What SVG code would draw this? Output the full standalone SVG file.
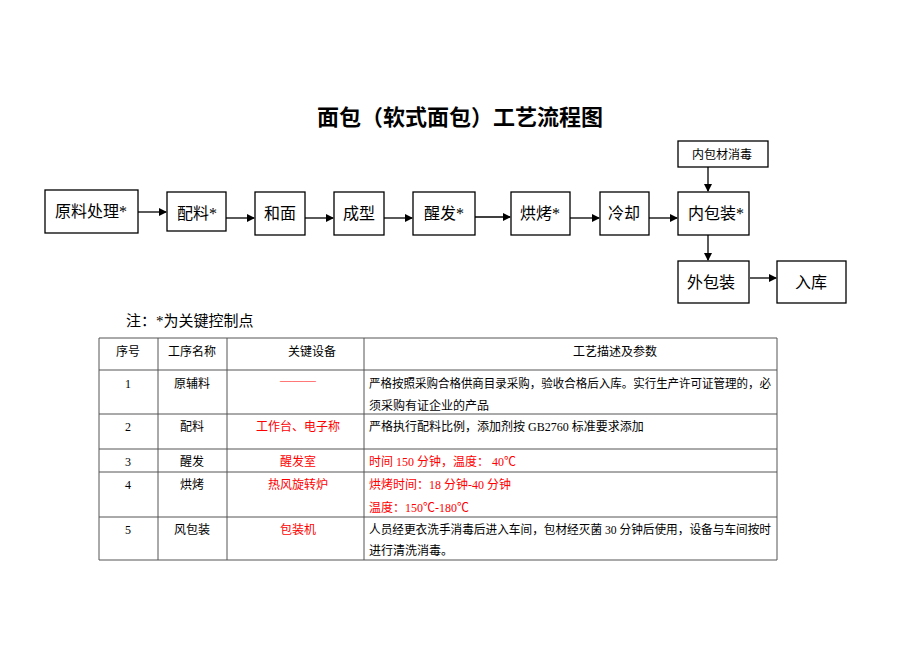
<svg xmlns="http://www.w3.org/2000/svg" width="920" height="651" viewBox="0 0 920 651">
<style>
text{font-family:"Liberation Serif","Noto Sans CJK SC",serif;fill:#000}
.b{fill:#fff;stroke:#000;stroke-width:1.3}
.n{font-size:16px;text-anchor:middle}
.t{font-size:12px}
.c{text-anchor:middle}
.r{fill:#f00}
.g line{stroke:#555;stroke-width:1}
.e line{stroke:#000;stroke-width:1.3}
</style>
<defs><marker id="a" markerWidth="8" markerHeight="8" refX="7" refY="4" orient="auto" markerUnits="userSpaceOnUse"><path d="M0,0L8,4L0,8z" fill="#000"/></marker></defs>
<rect width="920" height="651" fill="#fff"/>
<text x="460" y="125" font-size="22" font-weight="bold" text-anchor="middle">面包（软式面包）工艺流程图</text>
<g id="n1"><rect class="b" x="45" y="190" width="93" height="43"/><text class="n" x="91" y="217">原料处理*</text></g>
<g id="n2"><rect class="b" x="167" y="192" width="59" height="39"/><text class="n" x="197" y="219">配料*</text></g>
<g id="n3"><rect class="b" x="255" y="192" width="50" height="43"/><text class="n" x="280" y="219">和面</text></g>
<g id="n4"><rect class="b" x="334" y="192" width="50" height="43"/><text class="n" x="359" y="219">成型</text></g>
<g id="n5"><rect class="b" x="413" y="192" width="62" height="43"/><text class="n" x="444" y="219">醒发*</text></g>
<g id="n6"><rect class="b" x="511" y="192" width="59" height="43"/><text class="n" x="540" y="219">烘烤*</text></g>
<g id="n7"><rect class="b" x="600" y="192" width="49" height="43"/><text class="n" x="624" y="219">冷却</text></g>
<g id="n8"><rect class="b" x="678" y="192" width="71" height="43"/><text class="n" x="716" y="219">内包装*</text></g>
<g id="n9"><rect class="b" x="678" y="141" width="90" height="26"/><text x="722" y="159" font-size="12" text-anchor="middle">内包材消毒</text></g>
<g id="n10"><rect class="b" x="678" y="261" width="71" height="42"/><text class="n" x="711" y="288">外包装</text></g>
<g id="n11"><rect class="b" x="777" y="261" width="69" height="42"/><text class="n" x="811" y="288">入库</text></g>
<g id="edges" class="e">
<line x1="138" y1="212" x2="166" y2="212" marker-end="url(#a)"/>
<line x1="226" y1="218" x2="254" y2="218" marker-end="url(#a)"/>
<line x1="305" y1="218" x2="333" y2="218" marker-end="url(#a)"/>
<line x1="384" y1="218" x2="412" y2="218" marker-end="url(#a)"/>
<line x1="475" y1="217" x2="510" y2="217" marker-end="url(#a)"/>
<line x1="570" y1="218" x2="599" y2="218" marker-end="url(#a)"/>
<line x1="649" y1="218" x2="677" y2="218" marker-end="url(#a)"/>
<line x1="708" y1="167" x2="708" y2="191" marker-end="url(#a)"/>
<line x1="708" y1="235" x2="708" y2="260" marker-end="url(#a)"/>
<line x1="750" y1="278" x2="776" y2="278" marker-end="url(#a)"/>
</g>
<text x="126" y="326" font-size="15">注：*为关键控制点</text>
<g id="table">
<g class="g">
<line x1="99" y1="338" x2="777" y2="338"/><line x1="99" y1="370" x2="777" y2="370"/>
<line x1="99" y1="414" x2="777" y2="414"/><line x1="99" y1="449" x2="777" y2="449"/>
<line x1="99" y1="472" x2="777" y2="472"/><line x1="99" y1="517" x2="777" y2="517"/>
<line x1="99" y1="560" x2="777" y2="560"/>
<line x1="99" y1="338" x2="99" y2="560"/><line x1="158" y1="338" x2="158" y2="560"/>
<line x1="227" y1="338" x2="227" y2="560"/><line x1="364" y1="338" x2="364" y2="560"/>
<line x1="777" y1="338" x2="777" y2="560"/>
</g>
<text class="t c" x="128" y="356">序号</text><text class="t c" x="192" y="356">工序名称</text><text class="t c" x="312" y="356">关键设备</text><text class="t c" x="615" y="356">工艺描述及参数</text>
<text class="t c" x="128" y="388">1</text><text class="t c" x="192" y="388">原辅料</text><text class="t c r" x="298" y="384" font-size="8">———</text>
<text class="t" x="369" y="388" textLength="402" lengthAdjust="spacingAndGlyphs">严格按照采购合格供商目录采购，验收合格后入库。实行生产许可证管理的，必</text>
<text class="t" x="369" y="410">须采购有证企业的产品</text>
<text class="t c" x="128" y="431">2</text><text class="t c" x="192" y="431">配料</text><text class="t c r" x="298" y="431">工作台、电子称</text>
<text class="t" x="369" y="431">严格执行配料比例，添加剂按 GB2760 标准要求添加</text>
<text class="t c" x="128" y="466">3</text><text class="t c" x="192" y="466">醒发</text><text class="t c r" x="298" y="466">醒发室</text>
<text class="t r" x="369" y="466">时间 150 分钟，温度：  40℃</text>
<text class="t c" x="128" y="489">4</text><text class="t c" x="192" y="489">烘烤</text><text class="t c r" x="298" y="489">热风旋转炉</text>
<text class="t r" x="369" y="489">烘烤时间：18 分钟-40 分钟</text>
<text class="t r" x="369" y="512">温度：150℃-180℃</text>
<text class="t c" x="128" y="534">5</text><text class="t c" x="192" y="534">风包装</text><text class="t c r" x="298" y="534">包装机</text>
<text class="t" x="369" y="534" textLength="402" lengthAdjust="spacingAndGlyphs">人员经更衣洗手消毒后进入车间，包材经灭菌 30 分钟后使用，设备与车间按时</text>
<text class="t" x="369" y="555">进行清洗消毒。</text>
</g>
</svg>
